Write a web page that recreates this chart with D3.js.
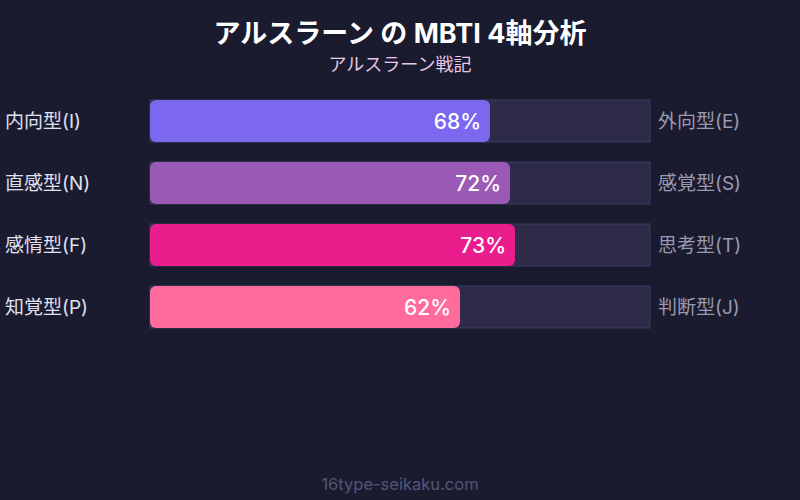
<!DOCTYPE html>
<html><head><meta charset="utf-8">
<script src="https://cdn.jsdelivr.net/npm/d3@7"></script>
<style>html,body{margin:0;padding:0;background:#1a1b2e;}svg{display:block;}</style>
</head><body>
<svg id="c" width="800" height="500"></svg>
<script>
const leftLabels = ["内向型(I)", "直感型(N)", "感情型(F)", "知覚型(P)"];
const rightLabels = ["外向型(E)", "感覚型(S)", "思考型(T)", "判断型(J)"];
const values = [68, 72, 73, 62];
const colors = ["#7b68ee", "#9b59b6", "#e91e8c", "#ff6b9d"];

const font = "Inter, 'Noto Sans CJK JP', sans-serif";
const svg = d3.select("#c");
svg.append("rect").attr("width", 800).attr("height", 500).attr("fill", "#1a1b2e");

const x = d3.scaleLinear().domain([0, 100]).range([150, 650]);
const bandH = 42;
const yPos = i => 100 + i * 62;

svg.append("text").attr("x", 400).attr("y", 43).attr("text-anchor", "middle")
  .attr("fill", "#ffffff").attr("font-family", font).attr("font-weight", "bold").attr("font-size", 27)
  .text("アルスラーン の MBTI 4軸分析");
svg.append("text").attr("x", 400).attr("y", 71).attr("text-anchor", "middle")
  .attr("fill", "#e8c8e8").attr("font-family", font).attr("font-size", 18)
  .text("アルスラーン戦記");

const g = svg.selectAll("g.row").data(values).enter().append("g").attr("class", "row");
g.append("rect").attr("x", x(0)).attr("y", (d, i) => yPos(i)).attr("width", x(100) - x(0)).attr("height", bandH)
  .attr("fill", "#2d2b48").attr("stroke", "#3f3d60").attr("stroke-width", 1);
g.append("rect").attr("x", x(0)).attr("y", (d, i) => yPos(i)).attr("width", d => x(d) - x(0)).attr("height", bandH)
  .attr("rx", 6).attr("fill", (d, i) => colors[i]);
g.append("text").attr("x", d => x(d) - 9).attr("y", (d, i) => yPos(i) + bandH / 2).attr("dy", "0.36em")
  .attr("text-anchor", "end").attr("fill", "#ffffff").attr("font-family", font).attr("font-weight", 500).attr("font-size", 21)
  .text(d => d + "%");
g.append("text").attr("x", 5).attr("y", (d, i) => yPos(i) + bandH / 2).attr("dy", "0.36em")
  .attr("fill", "#e0e0f0").attr("font-family", font).attr("font-size", 19)
  .text((d, i) => leftLabels[i]);
g.append("text").attr("x", 658).attr("y", (d, i) => yPos(i) + bandH / 2).attr("dy", "0.36em")
  .attr("fill", "#9a9aae").attr("font-family", font).attr("font-size", 19)
  .text((d, i) => rightLabels[i]);

svg.append("text").attr("x", 400).attr("y", 490).attr("text-anchor", "middle")
  .attr("fill", "#55557a").attr("font-family", font).attr("font-size", 16.5)
  .text("16type-seikaku.com");
</script>
</body></html>
